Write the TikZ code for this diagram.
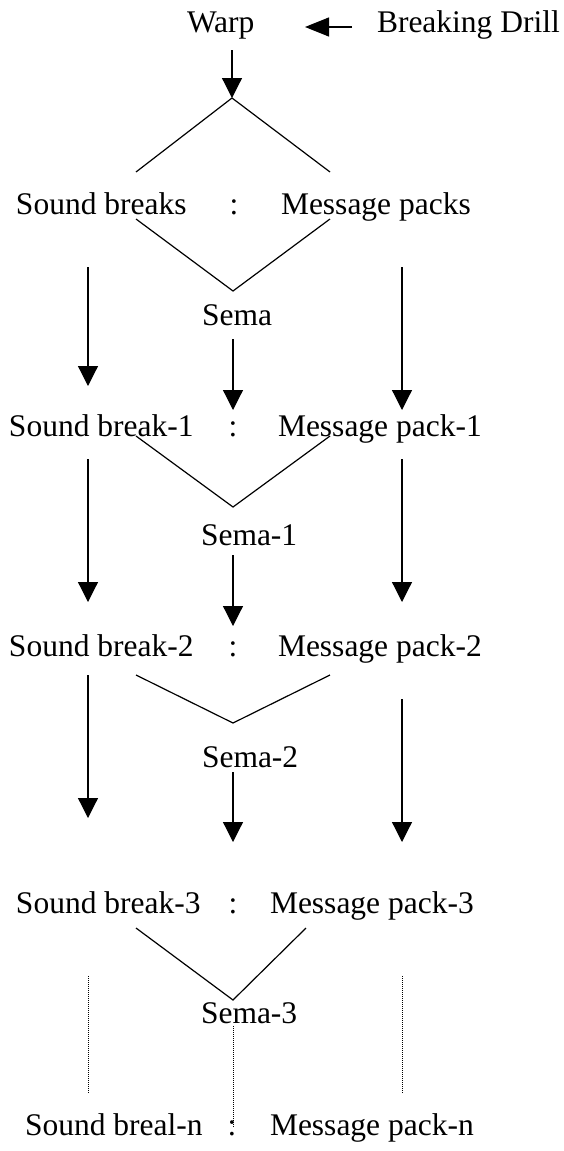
\documentclass[tikz,border=0pt]{standalone}
\usepackage{fontspec}
\setmainfont{Liberation Serif}
\usetikzlibrary{arrows.meta}
\tikzset{
  lbl/.style={inner sep=0pt, outer sep=0pt, font=\fontsize{31.5pt}{36pt}\selectfont},
  txt/.style={lbl, anchor=base west},
  sep/.style={lbl, anchor=base},
  flow/.style={line width=1.2pt, -{Triangle[length=20pt,width=20pt]}},
  sideflow/.style={line width=1.2pt, -{Triangle[length=24pt,width=19pt]}},
  branch/.style={line width=1.2pt, line join=miter},
  trail/.style={line width=1pt, dash pattern=on 1pt off 1pt}
}
\begin{document}
\begin{tikzpicture}[x=1pt,y=-1pt]
\useasboundingbox (0,0) rectangle (563,1151);

% header
\node[txt] (warp) at (187,32) {Warp};
\node[txt] (drill) at (377,32) {Breaking Drill};
\coordinate (d0) at (352,27);
\coordinate (d1) at (305,27);
\draw[sideflow] (d0) -- (d1);
\coordinate (w0) at (232,50);
\coordinate (w1) at (232,98);
\draw[flow] (w0) -- (w1);

% split into the two streams
\coordinate (t0l) at (136,172);
\coordinate (t0r) at (330,172);
\draw[branch] (t0l) -- (w1) -- (t0r);

% row 0
\node[txt] (sb0) at (16,214) {Sound breaks};
\node[sep] (c0) at (234,214) {:};
\node[txt] (mp0) at (281,214) {Message packs};
\coordinate (v0l) at (136,219);
\coordinate (v0a) at (233,291);
\coordinate (v0r) at (330,219);
\draw[branch] (v0l) -- (v0a) -- (v0r);
\node[txt] (s0) at (202,325) {Sema};
\coordinate (l0a) at (88,267);  \coordinate (l0b) at (88,386);
\coordinate (r0a) at (402,267); \coordinate (r0b) at (402,410);
\coordinate (m0a) at (233,339); \coordinate (m0b) at (233,410);
\draw[flow] (l0a) -- (l0b);
\draw[flow] (r0a) -- (r0b);
\draw[flow] (m0a) -- (m0b);

% row 1
\node[txt] (sb1) at (9,436) {Sound break-1};
\node[sep] (c1) at (233,436) {:};
\node[txt] (mp1) at (278,436) {Message pack-1};
\coordinate (v1l) at (136,436);
\coordinate (v1a) at (233,507);
\coordinate (v1r) at (330,436);
\draw[branch] (v1l) -- (v1a) -- (v1r);
\node[txt] (s1) at (201,545) {Sema-1};
\coordinate (l1a) at (88,459);  \coordinate (l1b) at (88,602);
\coordinate (r1a) at (402,459); \coordinate (r1b) at (402,602);
\coordinate (m1a) at (233,555); \coordinate (m1b) at (233,626);
\draw[flow] (l1a) -- (l1b);
\draw[flow] (r1a) -- (r1b);
\draw[flow] (m1a) -- (m1b);

% row 2
\node[txt] (sb2) at (9,656) {Sound break-2};
\node[sep] (c2) at (233,656) {:};
\node[txt] (mp2) at (278,656) {Message pack-2};
\coordinate (v2l) at (136,675);
\coordinate (v2a) at (233,723);
\coordinate (v2r) at (330,675);
\draw[branch] (v2l) -- (v2a) -- (v2r);
\node[txt] (s2) at (202,767) {Sema-2};
\coordinate (l2a) at (88,675);  \coordinate (l2b) at (88,818);
\coordinate (r2a) at (402,699); \coordinate (r2b) at (402,842);
\coordinate (m2a) at (233,772); \coordinate (m2b) at (233,842);
\draw[flow] (l2a) -- (l2b);
\draw[flow] (r2a) -- (r2b);
\draw[flow] (m2a) -- (m2b);

% row 3
\node[txt] (sb3) at (16,913) {Sound break-3};
\node[sep] (c3) at (233,913) {:};
\node[txt] (mp3) at (270,913) {Message pack-3};
\coordinate (v3l) at (136,928);
\coordinate (v3a) at (233,1000);
\coordinate (v3r) at (306,928);
\draw[branch] (v3l) -- (v3a) -- (v3r);
\node[txt] (s3) at (201,1023) {Sema-3};
\coordinate (l3a) at (88,976);   \coordinate (l3b) at (88,1093);
\coordinate (r3a) at (402,976);  \coordinate (r3b) at (402,1093);
\coordinate (m3a) at (233,1026); \coordinate (m3b) at (233,1128);
\draw[trail] (l3a) -- (l3b);
\draw[trail] (r3a) -- (r3b);
\draw[trail] (m3a) -- (m3b);

% last row
\node[txt] (sbn) at (25,1135) {Sound breal-n};
\node[sep] (cn) at (232,1135) {:};
\node[txt] (mpn) at (270,1135) {Message pack-n};
\end{tikzpicture}
\end{document}
